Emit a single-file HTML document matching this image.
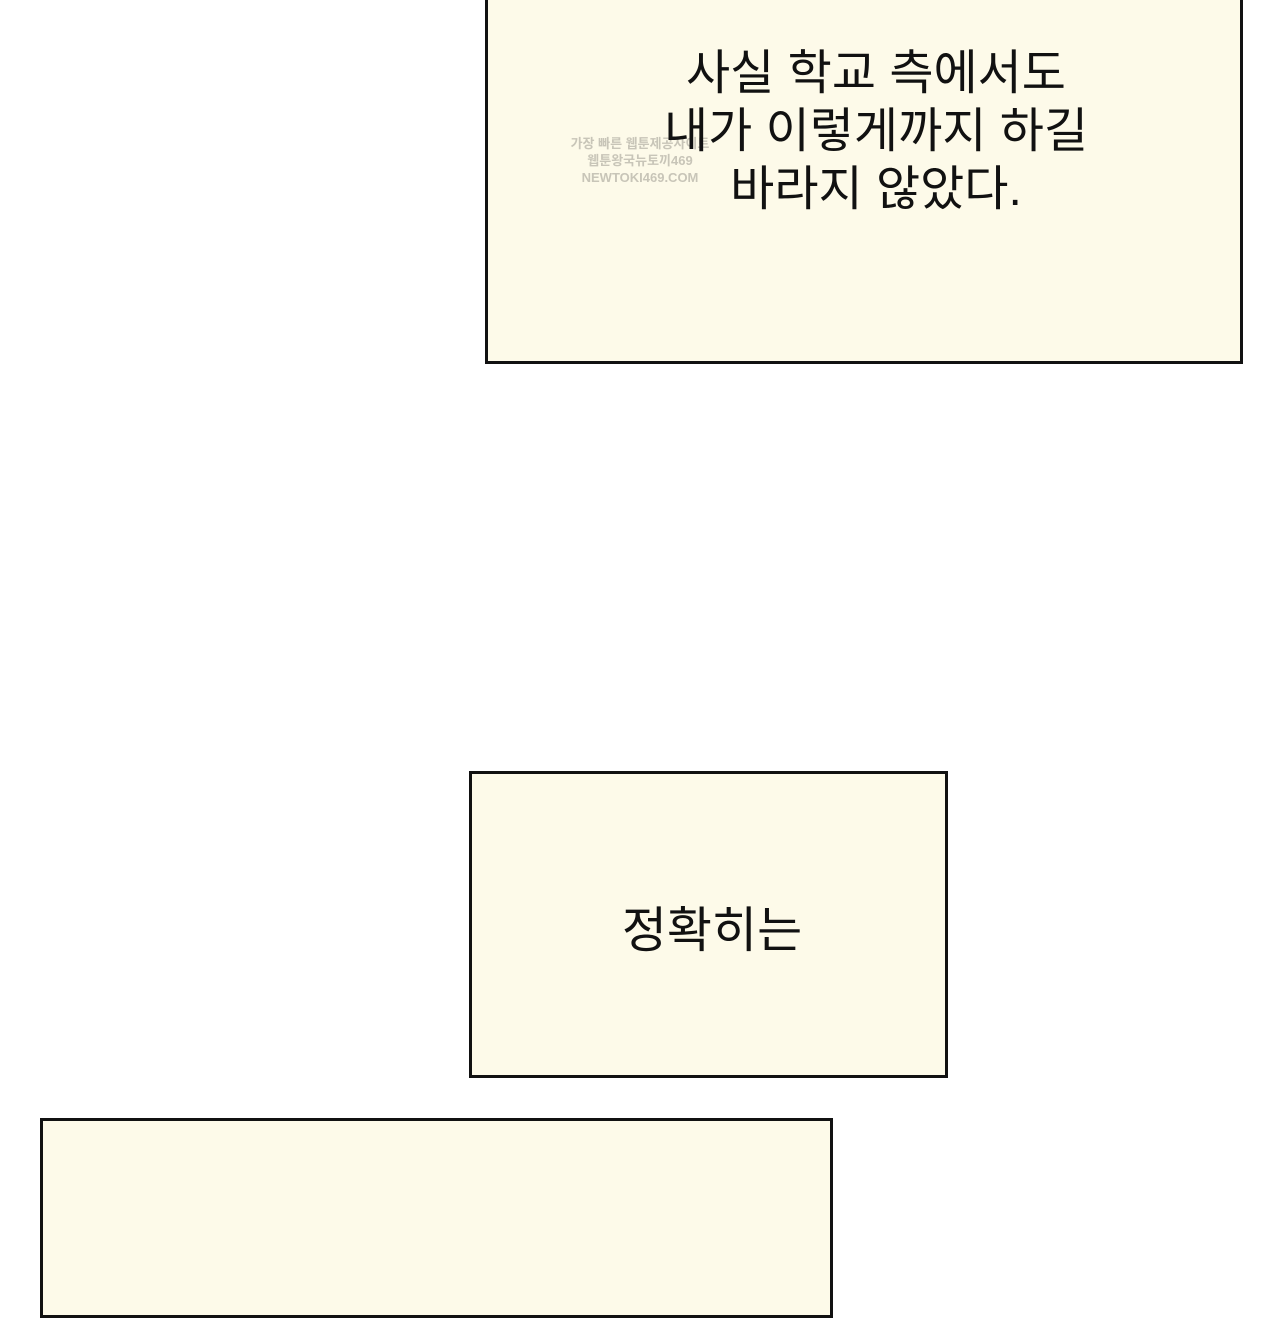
<!DOCTYPE html>
<html><head><meta charset="utf-8"><style>
body{margin:0;width:1280px;height:1280px;background:#fff;position:relative;overflow:hidden;font-family:"Liberation Sans","Noto Sans CJK KR","NanumGothic",sans-serif;color:#111}
.b{position:absolute;background:#fdfae9;border:3px solid #111;box-sizing:border-box}
.t{position:absolute;text-align:center;font-size:48px;line-height:58px;white-space:nowrap}
.wm{position:absolute;color:#c8c5b8;font-size:13px;line-height:17px;text-align:center;font-weight:bold}
</style></head><body>
<div class="b" style="left:485px;top:-5px;width:758px;height:369px"></div>
<div class="wm" style="left:570px;top:135px;width:140px">가장 빠른 웹툰제공사이트<br>웹툰왕국뉴토끼469<br>NEWTOKI469.COM</div>
<div class="t" style="left:576px;top:45px;width:600px">사실 학교 측에서도<br>내가 이렇게까지 하길<br>바라지 않았다.</div>
<div class="b" style="left:469px;top:771px;width:479px;height:307px"></div>
<div class="t" style="left:562px;top:902px;width:300px;font-size:49px">정확히는</div>
<div class="b" style="left:40px;top:1118px;width:793px;height:200px"></div>
</body></html>
